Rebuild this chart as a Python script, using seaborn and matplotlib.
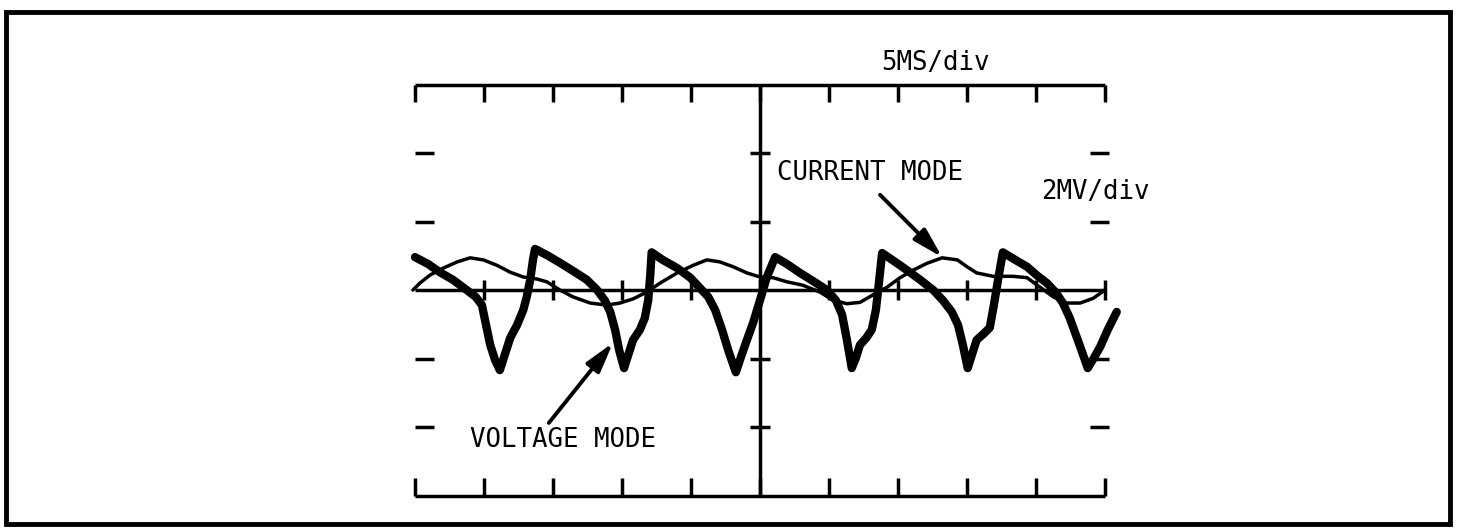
import numpy as np
import pandas as pd
import seaborn as sns
import matplotlib.pyplot as plt
from matplotlib.patches import Rectangle

# Traces, in divisions (x: 5MS/div, y: 2MV/div)
volt_x = [-5.00, -4.81, -4.64, -4.45, -4.25, -4.12, -4.03, -3.97, -3.91, -3.84, -3.77,
          -3.70, -3.62, -3.52, -3.43, -3.38, -3.33, -3.29, -3.26,
          -3.07, -2.87, -2.68, -2.51, -2.36, -2.25, -2.17, -2.10, -2.04, -1.97,
          -1.91, -1.84, -1.74, -1.67, -1.62, -1.59, -1.57,
          -1.41, -1.20, -1.01, -0.87, -0.75, -0.65, -0.55, -0.46, -0.35,
          -0.29, -0.19, -0.10, 0.00, 0.10, 0.22,
          0.39, 0.58, 0.77, 0.97, 1.10, 1.19, 1.26, 1.33,
          1.39, 1.45, 1.54, 1.62, 1.68, 1.72, 1.77,
          1.96, 2.13, 2.32, 2.51, 2.65, 2.78, 2.87, 2.94, 3.01,
          3.07, 3.14, 3.25, 3.33, 3.39, 3.45, 3.52,
          3.70, 3.87, 4.03, 4.16, 4.29, 4.39, 4.49, 4.58, 4.67, 4.75,
          4.84, 4.93, 5.04, 5.17]
volt_y = [0.48, 0.38, 0.26, 0.15, 0.00, -0.10, -0.22, -0.51, -0.80, -1.02, -1.17,
          -0.95, -0.70, -0.51, -0.29, -0.10, 0.15, 0.44, 0.60,
          0.50, 0.38, 0.26, 0.15, 0.00, -0.15, -0.32, -0.58, -0.88, -1.14,
          -0.95, -0.73, -0.58, -0.41, -0.15, 0.22, 0.55,
          0.44, 0.32, 0.18, 0.03, -0.10, -0.29, -0.58, -0.88, -1.20,
          -1.02, -0.73, -0.48, -0.15, 0.19, 0.48,
          0.38, 0.25, 0.13, 0.00, -0.15, -0.36, -0.73, -1.14,
          -0.99, -0.80, -0.70, -0.58, -0.29, 0.07, 0.54,
          0.41, 0.29, 0.15, 0.00, -0.15, -0.32, -0.51, -0.80, -1.14,
          -0.95, -0.73, -0.63, -0.55, -0.22, 0.15, 0.55,
          0.44, 0.34, 0.20, 0.10, -0.04, -0.19, -0.41, -0.66, -0.91, -1.14,
          -0.99, -0.83, -0.58, -0.32]

curr_x = [-5.03, -4.93, -4.78, -4.59, -4.39, -4.20, -4.01, -3.81, -3.62, -3.43, -3.23,
          -3.09, -2.90, -2.71, -2.46, -2.22, -2.03, -1.84, -1.64, -1.45, -1.20,
          -0.97, -0.77, -0.58, -0.39, -0.19, 0.00, 0.19, 0.39, 0.62, 0.87,
          1.06, 1.26, 1.45, 1.64, 1.84, 2.03, 2.22, 2.42, 2.64, 2.86,
          3.00, 3.14, 3.38, 3.67, 3.87, 4.06, 4.25, 4.45, 4.64, 4.83, 5.00]
curr_y = [0.00, 0.10, 0.22, 0.32, 0.41, 0.47, 0.44, 0.36, 0.26, 0.19, 0.16,
          0.12, 0.00, -0.10, -0.19, -0.22, -0.19, -0.13, -0.03, 0.10, 0.25,
          0.36, 0.44, 0.41, 0.34, 0.25, 0.19, 0.18, 0.12, 0.07, -0.03,
          -0.15, -0.20, -0.18, -0.07, 0.04, 0.18, 0.29, 0.39, 0.47, 0.44,
          0.34, 0.25, 0.20, 0.20, 0.18, 0.04, -0.10, -0.19, -0.19, -0.12, 0.00]

# graticule
x_divs = [-5, -4, -3, -2, -1, 0, 1, 2, 3, 4, 5]
y_divs = [-2, -1, 1, 2]
y_edge = 3

time_label = "5MS/div"
volt_label = "2MV/div"
curr_name = "CURRENT MODE"
volt_name = "VOLTAGE MODE"

sns.set_style("white")
plt.rcParams['font.family'] = ['DejaVu Sans Mono', 'DejaVu Sans']

fig = plt.figure(figsize=(14.6, 5.31), dpi=100)
ax = fig.add_axes([0, 0, 1, 1])

lw_g = 2.5
# top and bottom scales
ax.hlines([y_edge, -y_edge], x_divs[0], x_divs[-1], color='black', lw=lw_g)
ax.vlines(x_divs, y_edge - 0.26, y_edge, color='black', lw=lw_g)
ax.vlines(x_divs, -y_edge, -y_edge + 0.26, color='black', lw=lw_g)
# centre cross
ax.hlines(0, x_divs[0], x_divs[-1], color='black', lw=lw_g)
ax.vlines(x_divs[1:], -0.15, 0.15, color='black', lw=lw_g)
ax.vlines(0, -y_edge, y_edge, color='black', lw=lw_g)
ax.hlines(y_divs, -0.15, 0.15, color='black', lw=lw_g)
# side dashes
ax.hlines(y_divs, x_divs[0], x_divs[0] + 0.28, color='black', lw=lw_g)
ax.hlines(y_divs, x_divs[-1] - 0.22, x_divs[-1] + 0.06, color='black', lw=lw_g)

# traces
df_v = pd.DataFrame({'t': volt_x, 'v': volt_y})
df_c = pd.DataFrame({'t': curr_x, 'v': curr_y})
sns.lineplot(data=df_c, x='t', y='v', sort=False, estimator=None, color='black',
             lw=2.5, solid_joinstyle='round', solid_capstyle='round', ax=ax)
sns.lineplot(data=df_v, x='t', y='v', sort=False, estimator=None, color='black',
             lw=6, solid_joinstyle='round', solid_capstyle='round', ax=ax)

# labels and arrows
fs = 18.5
ax.text(2.55, 3.31, time_label, ha='center', va='center', fontsize=fs, color='black')
ax.text(4.86, 1.43, volt_label, ha='center', va='center', fontsize=fs, color='black')
ax.text(1.59, 1.71, curr_name, ha='center', va='center', fontsize=fs, color='black')
ax.text(-2.86, -2.19, volt_name, ha='center', va='center', fontsize=fs, color='black')

arrow = dict(arrowstyle='-|>,head_length=0.9,head_width=0.25', lw=2.8,
             color='black', mutation_scale=20, shrinkA=0, shrinkB=0)
ax.annotate('', xy=(2.64, 0.48), xytext=(1.74, 1.39), arrowprops=arrow)
ax.annotate('', xy=(-2.13, -0.77), xytext=(-3.06, -1.94), arrowprops=arrow)

# outer frame
ax.add_patch(Rectangle((-10.93, -3.42), 20.93, 7.48, fill=False, lw=3.5,
                       edgecolor='black'))

ax.set_xlim(-11.014, 10.145)
ax.set_ylim(-3.518, 4.234)
ax.axis('off')

fig.savefig('out.png', dpi=100, facecolor='white')
